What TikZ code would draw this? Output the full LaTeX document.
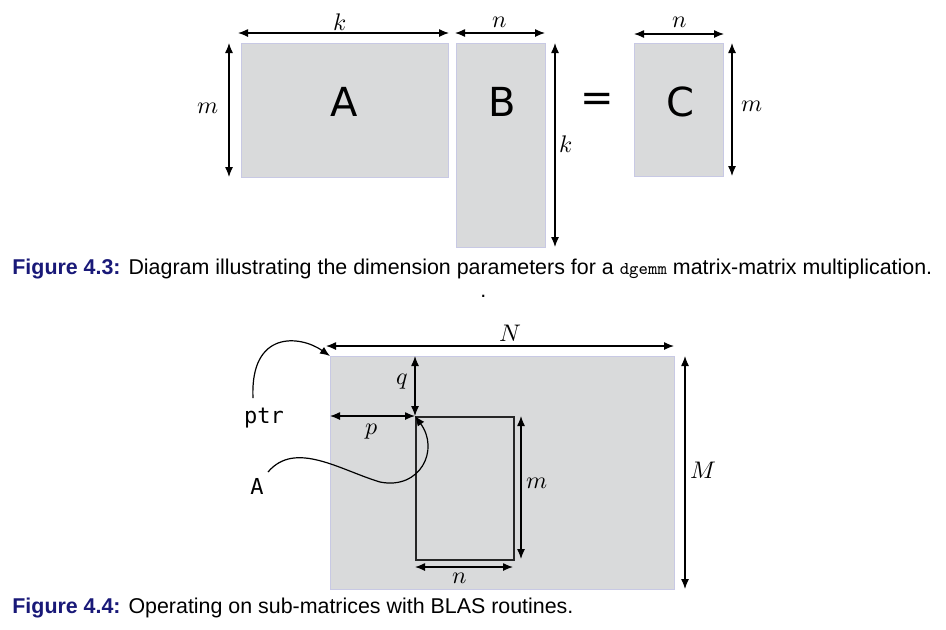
\documentclass[tikz,border=0pt]{standalone}
\usepackage{fontspec}
\setmainfont{Liberation Sans}
\newfontfamily\bigsans{DejaVu Sans}
\newfontfamily\monofont{DejaVu Sans Mono}
\usepackage{unicode-math}
\setmathfont{Latin Modern Math}
\usetikzlibrary{arrows.meta}
\definecolor{matfill}{HTML}{D9DADB}
\definecolor{matedge}{HTML}{C8C9E4}
\definecolor{capblue}{RGB}{25,25,120}
\tikzset{
  matbox/.style={fill=matfill,draw=matedge,line width=0.6pt},
  dimarrow/.style={{Latex[length=5pt,width=4pt]}-{Latex[length=5pt,width=4pt]},line width=0.6pt},
  ptrarrow/.style={-{Latex[length=5pt,width=4pt]},line width=0.6pt},
  dimlab/.style={font=\large},
  bigletter/.style={font=\bigsans\fontsize{20}{24}\selectfont},
  captext/.style={anchor=base west,inner sep=0pt,font=\fontsize{10.7}{12}\selectfont},
  monolab/.style={font=\monofont\fontsize{11}{13}\selectfont},
  subbox/.style={draw=black!85,line width=0.8pt}
}
\begin{document}
\begin{tikzpicture}[x=0.5pt,y=-0.5pt]
\useasboundingbox (0,0) rectangle (946,629);
% ---------- Figure 4.3 ----------
\node[matbox,minimum width=103.5pt,minimum height=67pt,inner sep=0pt,anchor=north west] (A) at (241,43) {};
\node[matbox,minimum width=44.3pt,minimum height=102pt,inner sep=0pt,anchor=north west] (B) at (456,43) {};
\node[matbox,minimum width=44.5pt,minimum height=66.5pt,inner sep=0pt,anchor=north west] (C) at (634,43) {};
\node[bigletter] (Atxt) at (344,102) {A};
\node[bigletter] (Btxt) at (502,102) {B};
\node[bigletter] (Ctxt) at (680,102) {C};
\node[bigletter] (eq) at (597,102) {=};
% dimension arrows
\coordinate (kA1) at (238,33); \coordinate (kA2) at (449,33);
\draw[dimarrow] (kA1) -- (kA2);
\node[dimlab] (kAl) at (340,22) {$k$};
\coordinate (nB1) at (455,33); \coordinate (nB2) at (545,33);
\draw[dimarrow] (nB1) -- (nB2);
\node[dimlab] (nBl) at (500,22) {$n$};
\coordinate (mA1) at (229,43); \coordinate (mA2) at (229,177);
\draw[dimarrow] (mA1) -- (mA2);
\node[dimlab] (mAl) at (208,108) {$m$};
\coordinate (kB1) at (555,43); \coordinate (kB2) at (555,247);
\draw[dimarrow] (kB1) -- (kB2);
\node[dimlab] (kBl) at (566,144) {$k$};
\coordinate (nC1) at (634,34); \coordinate (nC2) at (724,34);
\draw[dimarrow] (nC1) -- (nC2);
\node[dimlab] (nCl) at (680,22) {$n$};
\coordinate (mC1) at (732,43); \coordinate (mC2) at (732,176);
\draw[dimarrow] (mC1) -- (mC2);
\node[dimlab] (mCl) at (752,106) {$m$};
% caption
\node[captext] (cap1) at (12,274) {\textcolor{capblue}{\textbf{Figure 4.3:}} Diagram illustrating the dimension parameters for a {\ttfamily\small dgemm} matrix-matrix multiplication.};
\node[captext] (dot) at (480,297) {.};
% ---------- Figure 4.4 ----------
\node[matbox,minimum width=172pt,minimum height=116.5pt,inner sep=0pt,anchor=north west] (Big) at (330,356) {};
\node[subbox,minimum width=49pt,minimum height=71.5pt,inner sep=0pt,anchor=north west] (Sub) at (415,416) {};
\coordinate (N1) at (326,346); \coordinate (N2) at (674,346);
\draw[dimarrow] (N1) -- (N2);
\node[dimlab] (Nl) at (510,333) {$N$};
\coordinate (M1) at (685,356); \coordinate (M2) at (685,589);
\draw[dimarrow] (M1) -- (M2);
\node[dimlab] (Ml) at (703,470) {$M$};
\draw[dimarrow] (Sub.north west |- Big.north) -- (Sub.north west);
\node[dimlab] (ql) at (402,382) {$q$};
\draw[dimarrow] (Big.west |- Sub.north) -- (Sub.north west);
\node[dimlab] (pl) at (372,432) {$p$};
\coordinate (m1) at (521,416); \coordinate (m2) at (521,559);
\draw[dimarrow] (m1) -- (m2);
\node[dimlab] (ml) at (537,483) {$m$};
\coordinate (n1) at (415,567); \coordinate (n2) at (513,567);
\draw[dimarrow] (n1) -- (n2);
\node[dimlab] (nl) at (460,578) {$n$};
\node[monolab] (ptr) at (264,418) {ptr};
\node[monolab] (Alab) at (257,486) {A};
\coordinate (ptrs) at (253,398);
\coordinate (as) at (268,472);
\draw[ptrarrow] (ptrs) .. controls (250,330) and (300,335) .. (Big.north west);
\draw[ptrarrow] (as) .. controls (295,440) and (340,470) .. (380,482)
   .. controls (420,490) and (440,450) .. (Sub.north west);
\node[captext] (cap2) at (12,613) {\textcolor{capblue}{\textbf{Figure 4.4:}} Operating on sub-matrices with BLAS routines.};
\end{tikzpicture}
\end{document}
